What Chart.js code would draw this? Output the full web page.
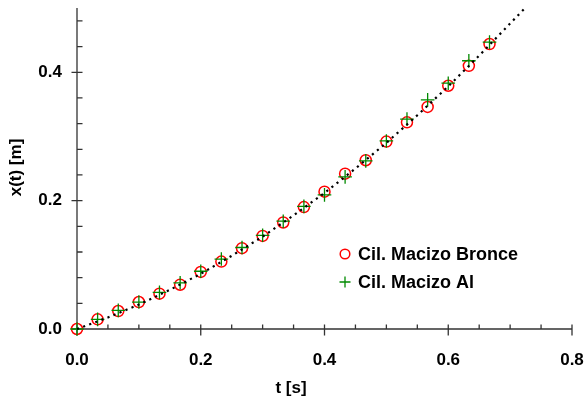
<!DOCTYPE html>
<html>
<head>
<meta charset="utf-8">
<script src="https://cdn.jsdelivr.net/npm/chart.js@4/dist/chart.umd.min.js"></script>
<style>
  html, body { margin: 0; padding: 0; background: #fff; }
  #wrap { width: 585px; height: 398px; position: relative; }
</style>
</head>
<body>
<div id="wrap"><canvas id="c" width="585" height="398"></canvas></div>
<script>
// ---- Data ----
const tValues = [0, 0.0333, 0.0667, 0.1, 0.1333, 0.1667, 0.2, 0.2333, 0.2667, 0.3, 0.3333,
                 0.3667, 0.4, 0.4333, 0.4667, 0.5, 0.5333, 0.5667, 0.6, 0.6333, 0.6667];
const bronceValues = [0, 0.015, 0.028, 0.042, 0.055, 0.069, 0.089, 0.105, 0.126, 0.145, 0.166,
                      0.190, 0.214, 0.242, 0.263, 0.292, 0.322, 0.346, 0.379, 0.410, 0.444];
const alValues = [0, 0.015, 0.029, 0.042, 0.057, 0.072, 0.090, 0.109, 0.127, 0.146, 0.168,
                  0.191, 0.209, 0.237, 0.262, 0.293, 0.327, 0.357, 0.383, 0.418, 0.447];
const fitT = [0, 0.05, 0.1, 0.15, 0.2, 0.25, 0.3, 0.35, 0.4, 0.45, 0.5, 0.55, 0.6, 0.65, 0.7, 0.724];
const fitX = [0, 0.018, 0.038, 0.061, 0.086, 0.114, 0.144, 0.177, 0.212, 0.250, 0.290, 0.333, 0.378, 0.426, 0.476, 0.500];

const xMajorTicks = [0, 0.2, 0.4, 0.6, 0.8];
const xMinorTicks = [0.05, 0.1, 0.15, 0.25, 0.3, 0.35, 0.45, 0.5, 0.55, 0.65, 0.7, 0.75];
const yMajorTicks = [0, 0.2, 0.4];
const yMinorTicks = [0.04, 0.08, 0.12, 0.16, 0.24, 0.28, 0.32, 0.36, 0.44, 0.48];

const seriesNames = ['Cil. Macizo Bronce', 'Cil. Macizo Al'];
const xTitle = 't [s]';
const yTitle = 'x(t) [m]';

const FONT = "'Liberation Sans', Arial, sans-serif";
const AXIS_COLOR = '#333';
const RED = '#ff0000';
const GREEN = '#008a00';

const toPts = (xs, ys) => xs.map((x, i) => ({ x: x, y: ys[i] }));

const decorPlugin = {
  id: 'decor',
  beforeDatasetsDraw(chart) {
    const ctx = chart.ctx;
    const xs = chart.scales.x, ys = chart.scales.y;
    const x0 = xs.getPixelForValue(0), y0 = ys.getPixelForValue(0);
    ctx.save();
    ctx.strokeStyle = AXIS_COLOR;
    ctx.lineWidth = 1.3;
    ctx.beginPath();
    // axes
    ctx.moveTo(x0, ys.getPixelForValue(0.5));
    ctx.lineTo(x0, y0);
    ctx.lineTo(xs.getPixelForValue(0.8), y0);
    // x ticks
    xMajorTicks.forEach(v => { const p = xs.getPixelForValue(v); ctx.moveTo(p, y0 - 4.5); ctx.lineTo(p, y0 + 6.5); });
    xMinorTicks.forEach(v => { const p = xs.getPixelForValue(v); ctx.moveTo(p, y0 - 4.5); ctx.lineTo(p, y0); });
    // y ticks
    yMajorTicks.forEach(v => { const p = ys.getPixelForValue(v); ctx.moveTo(x0 - 5.5, p); ctx.lineTo(x0 + 5.5, p); });
    yMinorTicks.forEach(v => { const p = ys.getPixelForValue(v); ctx.moveTo(x0, p); ctx.lineTo(x0 + 5.5, p); });
    ctx.stroke();
    ctx.restore();
  },
  afterDatasetsDraw(chart) {
    const ctx = chart.ctx;
    ctx.save();
    // axis titles
    ctx.fillStyle = '#000';
    ctx.font = 'bold 17px ' + FONT;
    ctx.textAlign = 'center';
    ctx.textBaseline = 'middle';
    ctx.fillText(xTitle, 291, 388);
    ctx.save();
    ctx.translate(16.5, 167.5);
    ctx.rotate(-Math.PI / 2);
    ctx.fillText(yTitle, 0, 0);
    ctx.restore();

    // legend
    ctx.lineWidth = 1.5;
    ctx.strokeStyle = RED;
    ctx.beginPath();
    ctx.arc(345, 254, 4.8, 0, Math.PI * 2);
    ctx.stroke();
    ctx.lineWidth = 1.3;
    ctx.strokeStyle = GREEN;
    ctx.beginPath();
    ctx.moveTo(339.5, 282); ctx.lineTo(350.5, 282);
    ctx.moveTo(345, 276.5); ctx.lineTo(345, 287.5);
    ctx.stroke();
    ctx.textAlign = 'left';
    ctx.fillStyle = '#000';
    ctx.font = 'bold 18px ' + FONT;
    ctx.fillText(seriesNames[0], 358, 255);
    ctx.fillText(seriesNames[1], 358, 283);
    ctx.restore();
  }
};

const noPad = s => { s.paddingTop = 0; s.paddingBottom = 0; s.paddingLeft = 0; s.paddingRight = 0; };

new Chart(document.getElementById('c'), {
  type: 'scatter',
  data: {
    datasets: [
      {
        label: 'fit',
        data: toPts(fitT, fitX),
        showLine: true,
        pointRadius: 0,
        borderColor: '#000',
        borderWidth: 2.2,
        borderDash: [2.2, 4.3],
        borderCapStyle: 'butt',
        fill: false,
        clip: false,
        order: 0
      },
      {
        label: seriesNames[1],
        data: toPts(tValues, alValues),
        pointStyle: 'cross',
        pointRadius: 6.8,
        pointBorderWidth: 1.3,
        borderColor: GREEN,
        backgroundColor: GREEN,
        clip: false,
        order: 1
      },
      {
        label: seriesNames[0],
        data: toPts(tValues, bronceValues),
        pointStyle: 'circle',
        pointRadius: 5.5,
        pointBorderWidth: 1.5,
        borderColor: RED,
        backgroundColor: 'rgba(0,0,0,0)',
        clip: false,
        order: 2
      }
    ]
  },
  options: {
    responsive: false,
    animation: false,
    layout: { padding: { top: 6, right: 13, left: 0, bottom: 0 } },
    plugins: { legend: { display: false }, tooltip: { enabled: false } },
    scales: {
      x: {
        type: 'linear', min: 0, max: 0.8,
        grid: { display: false, drawTicks: false },
        border: { display: false },
        afterBuildTicks: s => { s.ticks = xMajorTicks.map(v => ({ value: v })); },
        afterFit: s => { s.height = 69; noPad(s); },
        ticks: {
          padding: 21,
          color: '#000',
          font: { family: FONT, size: 17, weight: 'bold' },
          callback: v => Number(v).toFixed(1),
          maxRotation: 0, autoSkip: false
        }
      },
      y: {
        type: 'linear', min: 0, max: 0.5,
        grid: { display: false, drawTicks: false },
        border: { display: false },
        afterBuildTicks: s => { s.ticks = yMajorTicks.map(v => ({ value: v })); },
        afterFit: s => { s.width = 77; noPad(s); },
        ticks: {
          padding: 15,
          color: '#000',
          font: { family: FONT, size: 17, weight: 'bold' },
          callback: v => Number(v).toFixed(1),
          autoSkip: false
        }
      }
    }
  },
  plugins: [decorPlugin]
});
</script>
</body>
</html>
